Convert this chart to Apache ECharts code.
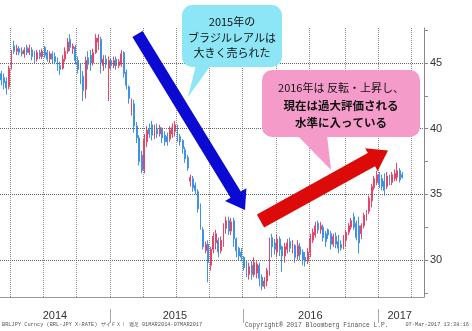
<!DOCTYPE html>
<html><head><meta charset="utf-8">
<script src="https://cdn.jsdelivr.net/npm/echarts@6/dist/echarts.min.js"></script>
<style>html,body{margin:0;padding:0;background:#fff}#c{width:472px;height:331px}</style>
</head><body><div id="c"></div>
<script>
// Weekly BRL/JPY candles, weeks ending Friday from 2014-03-07
const opens = [
44.2,43.9,43.6,43.2,44.6,46.3,45.9,46.1,45.9,45.7,
46.2,45.8,46.0,45.6,45.3,45.8,45.5,46.2,45.8,45.3,
45.7,45.5,45.2,44.8,44.6,45.3,45.9,46.8,46.1,46.2,
45.2,44.7,44.0,43.0,45.4,45.6,45.0,45.8,46.6,46.8,
44.8,45.3,44.6,45.2,44.8,45.3,44.8,44.9,45.8,44.3,
43.2,41.5,41.9,40.2,39.3,38.0,36.9,39.0,40.0,40.3,
39.4,40.0,39.6,40.0,39.5,39.4,39.2,39.6,39.8,40.1,
39.4,39.1,38.4,37.8,36.0,36.2,35.7,35.2,34.0,32.3,
30.7,31.2,29.6,30.8,31.3,31.5,30.7,31.4,32.4,33.0,
32.2,33.0,31.6,30.9,30.6,30.2,29.7,28.9,29.6,28.9,
29.0,29.6,28.7,28.0,28.4,29.2,31.7,31.3,30.6,31.6,
31.0,30.3,30.8,31.4,30.9,31.1,30.3,31.0,30.6,30.2,
29.9,30.6,31.5,31.9,32.8,32.3,32.5,32.0,32.3,32.0,
31.2,31.8,31.4,31.2,30.9,31.5,32.1,32.5,33.3,32.8,
32.6,32.0,32.6,33.2,33.7,34.5,35.5,35.9,36.5,36.2,
36.0,35.6,36.4,35.9,36.2,36.3,36.8,36.5];
const closes = [
43.7,43.5,43.1,44.6,45.8,45.9,46.1,45.8,45.7,46.0,
45.8,46.1,45.5,45.2,45.8,45.5,45.9,45.6,45.3,45.7,
45.3,45.1,44.6,44.5,45.3,45.9,46.6,46.2,46.3,45.2,
44.5,43.8,42.9,45.2,44.9,45.0,45.8,46.9,46.9,45.0,
45.3,44.9,45.2,44.8,45.2,44.8,45.1,45.7,44.2,43.3,
42.3,42.1,40.2,39.3,37.5,36.8,39.2,39.9,39.6,39.5,
40.0,39.6,40.1,39.3,39.0,39.0,39.9,40.1,40.3,39.3,
39.0,38.5,37.7,37.0,36.3,35.5,35.3,33.9,32.6,31.0,
31.2,29.8,30.8,31.8,32.0,30.6,31.5,32.5,33.0,32.2,
32.9,31.6,30.7,30.3,30.2,29.4,29.0,29.5,28.9,29.8,
29.7,28.6,28.0,28.4,29.2,31.4,31.0,30.8,31.6,30.8,
30.3,31.0,31.3,30.9,31.3,30.2,31.1,30.4,30.0,29.9,
30.6,31.6,32.1,32.6,32.3,32.6,31.7,31.4,31.9,31.2,
31.8,31.2,30.9,30.9,31.6,32.1,32.6,33.0,32.5,31.7,
31.3,32.6,33.4,33.6,34.7,35.6,36.2,36.5,35.8,35.6,
35.3,36.4,36.0,36.5,36.6,36.8,36.1,36.301];
const lows = [
43.3,43.0,42.6,43.0,44.5,45.7,45.6,45.6,45.5,45.4,
45.6,45.6,45.2,45.0,45.1,45.3,45.3,45.4,45.1,45.0,
45.0,44.9,44.4,44.1,44.5,45.1,45.7,45.9,45.7,44.9,
44.2,43.4,42.1,42.3,44.5,44.4,44.8,45.7,46.0,44.2,
44.4,44.6,42.1,44.5,44.6,44.5,44.6,44.7,43.9,43.0,
41.9,41.0,39.7,38.9,37.2,36.6,36.6,38.6,39.3,39.1,
39.2,39.3,39.4,38.9,38.7,38.7,39.0,39.3,39.4,39.0,
38.7,38.1,37.4,36.8,35.6,35.2,35.0,33.6,32.3,30.8,
30.5,28.3,29.2,30.5,30.8,30.2,30.5,31.0,32.0,31.9,
31.9,31.0,30.2,30.0,29.9,29.2,28.7,28.5,28.5,28.7,
28.6,28.0,27.7,27.8,28.0,28.8,30.2,30.4,30.2,30.3,
29.1,29.8,30.5,30.6,30.5,29.8,30.0,30.0,29.6,29.5,
29.7,30.2,31.3,31.7,32.0,32.0,31.4,31.0,31.6,30.8,
31.0,30.9,30.5,30.7,30.8,31.0,31.9,32.3,32.3,31.5,
30.5,31.6,32.4,33.0,33.5,34.0,35.3,35.7,35.5,35.3,
34.9,35.4,35.7,35.7,36.0,36.0,35.9,36.2];
const highs = [
44.4,44.2,43.9,44.8,46.0,46.7,46.4,46.3,46.2,46.2,
46.4,46.4,46.2,45.9,46.0,46.0,46.1,46.3,46.0,45.9,
45.9,45.8,45.4,45.1,45.6,46.2,46.9,47.2,46.5,46.4,
45.5,45.0,44.4,45.5,45.9,46.0,46.1,47.2,47.2,47.0,
45.6,45.6,45.5,45.4,45.5,45.5,45.3,46.0,45.9,44.5,
43.3,42.3,42.2,40.5,39.5,38.3,39.6,40.2,40.4,40.6,
40.3,40.4,40.3,40.1,39.8,39.7,40.2,40.4,40.6,40.3,
39.6,39.2,38.6,38.0,36.5,36.4,35.9,35.4,34.3,32.5,
31.4,31.5,31.0,32.1,32.3,31.7,31.8,32.8,33.3,33.3,
33.2,33.2,31.7,31.0,30.9,30.3,29.9,29.8,29.9,30.2,
29.9,29.8,28.9,28.7,29.4,31.7,32.0,31.6,31.9,31.8,
31.1,31.3,31.6,31.7,31.5,31.2,31.5,31.3,30.8,30.6,
30.9,32.0,32.4,32.9,33.0,32.9,32.7,32.2,32.4,32.2,
32.0,32.1,31.9,31.5,31.9,32.3,32.8,33.2,33.6,33.0,
33.3,32.8,33.6,33.8,34.9,35.8,36.4,36.8,36.7,36.5,
36.6,36.7,36.5,36.7,36.9,37.4,37.0,36.7];
const yTickValues = [27.5,30,32.5,35,37.5,40,42.5,45,47.5];
const yLabelValues = [30,35,40,45];
const yearLabels = ['2014','2015','2016','2017'];
const firstWeek = '2014-03-07';
const weekCount = 166;
const lastPrice = 36.3010;

// categories: weekly dates
const weeks = [];
const t0 = Date.parse(firstWeek + 'T00:00:00Z');
for (let k = 0; k < weekCount; k++) {
  weeks.push(new Date(t0 + k * 7 * 86400000).toISOString().slice(0, 10));
}
const mon = i => +weeks[i].slice(5, 7) - 1;
const yr = i => weeks[i].slice(0, 4);
const monthStart = i => i > 0 && mon(i) !== mon(i - 1);
const quarterStart = i => monthStart(i) && mon(i) % 3 === 0;
const yearStart = i => monthStart(i) && mon(i) === 0;
const yearMid = {};
yearLabels.forEach(y => {
  const idx = weeks.map((w, i) => (yr(i) === y ? i : -1)).filter(i => i >= 0);
  yearMid[Math.floor((idx[0] + idx[idx.length - 1]) / 2)] = y;
});

const candles = opens.map((o, i) => [o, closes[i], lows[i], highs[i]]);
const UP = '#e4466a', DOWN = '#3f93e6';

const chart = echarts.init(document.getElementById('c'), null, { renderer: 'canvas' });
chart.setOption({
  animation: false,
  backgroundColor: '#fff',
  grid: { left: 0, right: 48, top: 28, bottom: 34 },
  xAxis: {
    type: 'category', data: weeks, boundaryGap: true,
    axisLine: { lineStyle: { color: '#999' } },
    axisTick: { interval: (i) => monthStart(i), length: 3, lineStyle: { color: '#999' } },
    axisLabel: {
      interval: (i) => yearMid[i] !== undefined,
      formatter: (v) => v.slice(0, 4),
      fontSize: 11, color: '#333', margin: 13, fontFamily: 'Liberation Sans'
    },
    splitLine: { show: true, interval: (i) => quarterStart(i), lineStyle: { type: 'dotted', color: '#8a8a8a' } }
  },
  yAxis: {
    type: 'value', position: 'right', min: 27.18, max: 47.67, scale: true,
    splitLine: { show: false },
    axisLine: { show: true, lineStyle: { color: '#888' } },
    axisTick: { show: true, customValues: yTickValues, length: 4, lineStyle: { color: '#888' } },
    axisLabel: { customValues: yLabelValues, fontSize: 11, color: '#333', margin: 6, fontFamily: 'Liberation Sans' }
  },
  series: [{
    type: 'candlestick', data: candles, barWidth: 1.4,
    itemStyle: { color: UP, color0: DOWN, borderColor: UP, borderColor0: DOWN, borderWidth: 1 },
    markLine: {
      silent: true, symbol: ['none', 'none'], animation: false,
      label: { show: false },
      lineStyle: { type: 'dotted', color: '#666', width: 1 },
      data: yLabelValues.map(v => ({ yAxis: v })).concat([{
        yAxis: lastPrice,
        lineStyle: { opacity: 0 },
        label: {
          show: true, position: 'end', distance: 3,
          formatter: () => lastPrice.toFixed(4),
          backgroundColor: '#e4213f', color: '#fff', padding: [1, 3, 0, 3],
          borderRadius: 2, fontSize: 11, fontFamily: 'Liberation Sans'
        }
      }])
    }
  }]
});

// annotations + year separators
const px = i => chart.convertToPixel({ xAxisIndex: 0 }, weeks[i]);
const gfx = [];
weeks.forEach((w, i) => {
  if (yearStart(i)) {
    const x = Math.round((px(i - 1) + px(i)) / 2) + 0.5;
    gfx.push({ type: 'line', shape: { x1: x, y1: 309, x2: x, y2: 323 }, style: { stroke: '#aaa', lineWidth: 1 } });
  }
});
const JP = '"Noto Sans CJK JP"';
gfx.push(
  { type: 'rect', z: 100, shape: { x: 182, y: 5, width: 100, height: 62, r: 10 }, style: { fill: '#8ce6f5' } },
  { type: 'polygon', z: 100, shape: { points: [[196, 65], [211, 65], [188, 97]] }, style: { fill: '#8ce6f5' } },
  { type: 'text', z: 101, style: { text: '2015年の', x: 232, y: 22, textAlign: 'center', textVerticalAlign: 'middle', font: '11px ' + JP, fill: '#111' } },
  { type: 'text', z: 101, style: { text: 'ブラジルレアルは', x: 232, y: 37.5, textAlign: 'center', textVerticalAlign: 'middle', font: '11px ' + JP, fill: '#111' } },
  { type: 'text', z: 101, style: { text: '大きく売られた', x: 232, y: 53, textAlign: 'center', textVerticalAlign: 'middle', font: '11px ' + JP, fill: '#111' } },
  { type: 'rect', z: 100, shape: { x: 262, y: 70, width: 158, height: 67, r: 10 }, style: { fill: '#f59bc9' } },
  { type: 'polygon', z: 100, shape: { points: [[297, 135], [327, 135], [331, 170]] }, style: { fill: '#f59bc9' } },
  { type: 'text', z: 101, style: { text: '2016年は 反転・上昇し、', x: 341, y: 88, textAlign: 'center', textVerticalAlign: 'middle', font: '11px ' + JP, fill: '#111' } },
  { type: 'text', z: 101, style: { text: '現在は過大評価される', x: 341, y: 106, textAlign: 'center', textVerticalAlign: 'middle', font: 'bold 11.5px ' + JP, fill: '#111' } },
  { type: 'text', z: 101, style: { text: '水準に入っている', x: 341, y: 122.5, textAlign: 'center', textVerticalAlign: 'middle', font: 'bold 11.5px ' + JP, fill: '#111' } },
  { type: 'polygon', z: 102, shape: { points: [[142.6, 30.9], [240.8, 191.5], [246.4, 188.2], [245, 210], [225.0, 201.0], [230.6, 197.7], [132.4, 37.1]] }, style: { fill: '#0a0ad2' } },
  { type: 'polygon', z: 102, shape: { points: [[256.9, 214.4], [367.8, 153.1], [365.1, 148.3], [388, 150.5], [377.7, 171.1], [375.0, 166.3], [264.1, 227.6]] }, style: { fill: '#dd0a0a' } },
  { type: 'text', z: 101, style: { text: 'BRLJPY Curncy (BRL-JPY X-RATE) ザイＦＸ！ 週足 01MAR2014-07MAR2017', x: 2, y: 325, textVerticalAlign: 'middle', font: '5.3px "Liberation Mono"', fill: '#555' } },
  { type: 'text', z: 101, style: { text: 'Copyright® 2017 Bloomberg Finance L.P.', x: 245, y: 325, textVerticalAlign: 'middle', font: '6.3px "Liberation Mono"', fill: '#555' } },
  { type: 'text', z: 101, style: { text: '07-Mar-2017 13:38:16', x: 469, y: 325, textAlign: 'right', textVerticalAlign: 'middle', font: '5.3px "Liberation Mono"', fill: '#555' } }
);
chart.setOption({ graphic: { elements: gfx } });
</script>
</body></html>
